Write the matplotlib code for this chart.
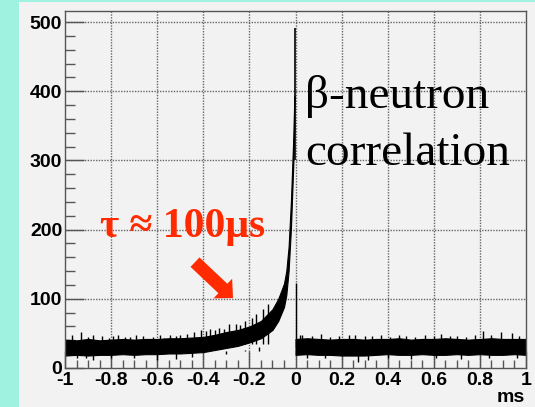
import numpy as np
import matplotlib.pyplot as plt
from matplotlib.patches import Rectangle, FancyArrow
from matplotlib.transforms import IdentityTransform

# time before the neutron (ms) and the band of counts per bin
left_x = [-1.0, -0.95, -0.9, -0.85, -0.8, -0.75, -0.7, -0.65, -0.6, -0.55,
          -0.5, -0.45, -0.4, -0.35, -0.3, -0.25, -0.2, -0.15, -0.1, -0.075,
          -0.05, -0.04, -0.03, -0.02, -0.01, -0.005]
left_up = [41, 40, 42, 40, 41, 42, 41, 42, 42, 43,
           43, 44, 45, 48, 52, 55, 60, 68, 85, 100,
           122, 140, 175, 240, 330, 393]
left_lo = [18, 19, 18, 19, 19, 20, 19, 20, 20, 21,
           21, 22, 23, 26, 29, 32, 37, 43, 55, 68,
           88, 105, 140, 200, 290, 350]

# last bin before zero and first bin after it
peak_x = -0.002
peak_val = 491
first_x = 0.0
first_val = 123

# time after the neutron (ms)
right_x = [0.0, 0.05, 0.1, 0.15, 0.2, 0.25, 0.3, 0.35, 0.4, 0.45, 0.5,
           0.55, 0.6, 0.65, 0.7, 0.75, 0.8, 0.85, 0.9, 0.95, 1.0]
right_up = [42, 43, 42, 41, 42, 42, 41, 42, 42, 43, 41,
            42, 42, 43, 42, 41, 42, 43, 42, 42, 42]
right_lo = [19, 20, 19, 19, 18, 18, 18, 19, 20, 19, 19,
            20, 19, 19, 20, 19, 20, 19, 19, 20, 19]

# single bins sticking out of the band
spike_x = [-0.97, -0.93, -0.9, -0.88, -0.84, -0.81, -0.79, -0.77, -0.74,
           -0.72, -0.69, -0.66, -0.62, -0.59, -0.57, -0.545, -0.52, -0.5,
           -0.47, -0.44, -0.41, -0.39, -0.37, -0.35, -0.33, -0.31, -0.29,
           -0.26, -0.24, -0.22, -0.19, -0.17, -0.14, -0.12,
           0.02, 0.03, 0.07, 0.11, 0.15, 0.19, 0.23, 0.26, 0.3, 0.33, 0.37,
           0.41, 0.45, 0.48, 0.52, 0.56, 0.6, 0.63, 0.67, 0.7, 0.74, 0.78,
           0.815, 0.85, 0.89, 0.94, 0.97]
spike_val = [47, 52, 45, 47, 46, 44, 46, 47, 45,
             45, 47, 46, 45, 47, 44, 48, 46, 47,
             49, 52, 55, 53, 56, 55, 58, 57, 63,
             64, 62, 68, 72, 78, 85, 92,
             47, 48, 46, 49, 45, 46, 47, 47, 46, 46, 47,
             45, 48, 46, 45, 47, 46, 49, 46, 46, 45, 47,
             54, 47, 52, 50, 46]
dip_x = [-0.95, -0.91, -0.88, -0.8, -0.7, -0.6, -0.52, -0.45, -0.3, -0.22,
         -0.16, 0.05, 0.13, 0.27, 0.315, 0.4, 0.5, 0.61, 0.72, 0.84, 0.96]
dip_val = [14, 15, 12, 15, 14, 12, 13, 16, 20, 26,
           30, 14, 15, 9, 11, 14, 13, 15, 13, 15, 14]

xticks = [-1, -0.8, -0.6, -0.4, -0.2, 0, 0.2, 0.4, 0.6, 0.8, 1]
yticks = [0, 100, 200, 300, 400, 500]

W, H = 535, 407
fig = plt.figure(figsize=(W / 100, H / 100), dpi=100, facecolor='#a0f2e0')
fig.patches.append(Rectangle((19 / W, 0), 1 - 19 / W, (H - 2) / H,
                             transform=fig.transFigure, facecolor='#f2f2f2',
                             edgecolor='none', zorder=-10))
ax = fig.add_axes([65 / W, 39 / H, 461 / W, 357 / H])
ax.set_facecolor('#f2f2f2')

# dotted grid at the major ticks
for v in xticks[1:-1]:
    ax.plot([v, v], [0, 516], color='#666', lw=1, ls=(0, (1, 1)), zorder=1)
for v in yticks[1:]:
    ax.plot([-1, 1], [v, v], color='#666', lw=1, ls=(0, (1, 1)), zorder=1)

ax.fill_between(left_x, left_lo, left_up, color='black', lw=0.8, zorder=2)
ax.fill_between(right_x, right_lo, right_up, color='black', lw=0.8, zorder=2)
ax.vlines(peak_x, 300, peak_val, color='black', lw=1.2, zorder=2)
ax.vlines(first_x, 30, first_val, color='black', lw=1, zorder=2)
ax.vlines(spike_x, 35, spike_val, color='black', lw=1, zorder=2)
ax.vlines(dip_x, dip_val, 25, color='black', lw=1, zorder=2)

# axes styling
tick_font = dict(fontsize=14, fontweight='bold', family='Liberation Sans')
ax.set_xticks(xticks)
ax.set_xticklabels([f'{v:g}' for v in xticks], **tick_font)
ax.set_yticks(yticks)
ax.set_yticklabels([str(v) for v in yticks], **tick_font)
ax.set_xticks(np.arange(-1, 1.001, 0.05), minor=True)
ax.set_yticks(np.arange(0, 516, 20), minor=True)
ax.tick_params(which='both', direction='in', color='#555', width=1,
               top=False, right=False)
ax.tick_params(axis='x', which='major', length=12, pad=3)
ax.tick_params(axis='x', which='minor', length=6)
ax.tick_params(axis='y', which='major', length=14, pad=2)
ax.tick_params(axis='y', which='minor', length=7)
for s in ax.spines.values():
    s.set_color('#555')
    s.set_linewidth(1)
ax.set_xlim(-1, 1)
ax.set_ylim(0, 516)

fig.text(525 / W, (H - 402) / H, 'ms', ha='right', va='baseline',
         fontsize=14, fontweight='bold', family='Liberation Sans')

# labels
serif = ['Liberation Serif', 'DejaVu Serif']
ax.text(0.041, 376, 'β-neutron', family=serif, fontsize=34,
        va='baseline', ha='left')
ax.text(0.041, 293, 'correlation', family=serif, fontsize=34,
        va='baseline', ha='left')
red = '#ff2a00'
ax.text(-0.85, 189, 'τ ≈ 100μs', family=serif, fontsize=30,
        fontweight='bold', color=red, va='baseline', ha='left')

# arrow toward the exponential tail
tail = ax.transData.transform((-0.436, 153))
tip = ax.transData.transform((-0.271, 101))
arrow = FancyArrow(tail[0], tail[1], tip[0] - tail[0], tip[1] - tail[1],
                   width=13, head_width=27, head_length=14,
                   length_includes_head=True, color=red, lw=0,
                   transform=IdentityTransform())
fig.add_artist(arrow)

fig.savefig('out.png', dpi=100, facecolor=fig.get_facecolor())
